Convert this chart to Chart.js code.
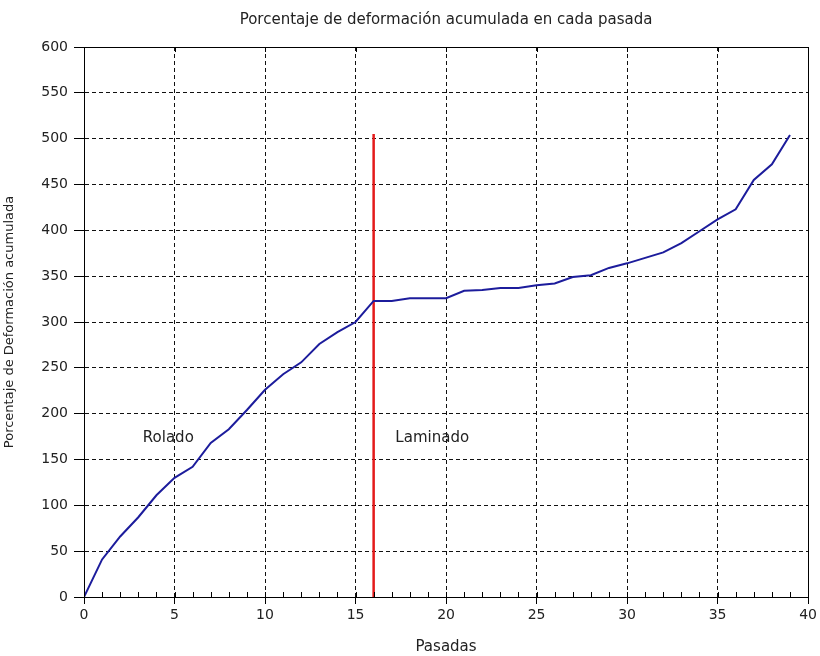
<!DOCTYPE html>
<html>
<head>
<meta charset="utf-8">
<script src="https://cdn.jsdelivr.net/npm/chart.js@4/dist/chart.umd.min.js"></script>
<style>
  html, body { margin: 0; padding: 0; background: #fff; }
  #wrap { width: 820px; height: 656px; }
</style>
</head>
<body>
<div id="wrap"><canvas id="deformChart" width="820" height="656"></canvas></div>
<script>
// numero de pasada
const pasadas = [0, 1, 2, 3, 4, 5, 6, 7, 8, 9, 10, 11, 12, 13, 14, 15, 16, 17, 18, 19,
  20, 21, 22, 23, 24, 25, 26, 27, 28, 29, 30, 31, 32, 33, 34, 35, 36, 37, 38, 39];
// deformacion acumulada (%)
const deformacion = [0, 41, 66, 87, 111, 130, 142, 168, 183, 204, 226, 243, 256, 276, 289, 300, 323, 323, 326, 326,
  326, 334, 335, 337, 337, 340, 342, 349, 351, 359, 364, 370, 376, 386, 399, 412, 423, 455, 472, 504];

// linea roja que separa rolado / laminado
const limitePasada = [16, 16];
const limiteValor = [0, 505];

const etiquetas = ['Rolado', 'Laminado'];
const etiquetasX = [3.25, 17.2];
const etiquetasY = [173, 173];

const xTicks = [0, 5, 10, 15, 20, 25, 30, 35, 40];
const yTicks = [0, 50, 100, 150, 200, 250, 300, 350, 400, 450, 500, 550, 600];

const titulo = 'Porcentaje de deformación acumulada en cada pasada';
const FONT = 'DejaVu Sans';

const frameAndText = {
  id: 'frameAndText',
  afterDraw(chart) {
    const ctx = chart.ctx;
    const area = chart.chartArea;
    const xs = chart.scales.x;
    const ys = chart.scales.y;
    ctx.save();
    // marco
    ctx.strokeStyle = '#000';
    ctx.lineWidth = 1;
    ctx.setLineDash([]);
    ctx.strokeRect(Math.round(area.left) + 0.5, Math.round(area.top) + 0.5,
      Math.round(area.right - area.left), Math.round(area.bottom - area.top));
    // marcas menores en eje x
    ctx.beginPath();
    for (let v = 0; v <= 40; v++) {
      const px = Math.round(xs.getPixelForValue(v)) + 0.5;
      ctx.moveTo(px, area.bottom);
      ctx.lineTo(px, area.bottom - 5);
      if (v % 5 === 0) {
        ctx.moveTo(px, area.top);
        ctx.lineTo(px, area.top + 5);
      }
    }
    ctx.stroke();
    // titulo centrado sobre el area del grafico
    ctx.fillStyle = '#222';
    ctx.textAlign = 'center';
    ctx.textBaseline = 'middle';
    ctx.font = '15px "' + FONT + '"';
    ctx.fillText(titulo, (area.left + area.right) / 2, 20);
    // textos
    ctx.textAlign = 'left';
    etiquetas.forEach((t, i) => {
      ctx.fillText(t, xs.getPixelForValue(etiquetasX[i]), ys.getPixelForValue(etiquetasY[i]));
    });
    ctx.restore();
  }
};

const ctx = document.getElementById('deformChart').getContext('2d');
new Chart(ctx, {
  type: 'scatter',
  data: {
    datasets: [
      {
        label: 'Deformación',
        data: pasadas.map((p, i) => ({ x: p, y: deformacion[i] })),
        showLine: true,
        borderColor: '#1c1c9c',
        borderWidth: 2,
        pointRadius: 0,
        tension: 0
      },
      {
        label: 'Límite',
        data: limitePasada.map((p, i) => ({ x: p, y: limiteValor[i] })),
        showLine: true,
        borderColor: '#e41a1a',
        borderWidth: 2.5,
        pointRadius: 0
      }
    ]
  },
  plugins: [frameAndText],
  options: {
    responsive: false,
    animation: false,
    events: [],
    layout: { padding: { top: 47, right: 9, bottom: 0, left: 0 } },
    plugins: {
      legend: { display: false },
      tooltip: { enabled: false },
      title: { display: false }
    },
    scales: {
      x: {
        type: 'linear',
        min: 0,
        max: 40,
        afterBuildTicks: (s) => { s.ticks = xTicks.map(v => ({ value: v })); },
        afterFit: (s) => { s.height = 59; },
        ticks: {
          color: '#222',
          font: { family: FONT, size: 14 },
          padding: 3
        },
        grid: {
          color: '#111',
          tickLength: 7,
          tickColor: '#000',
          tickBorderDash: []
        },
        border: { display: true, color: '#000', width: 1, dash: [4, 3] },
        title: {
          display: true,
          text: 'Pasadas',
          color: '#222',
          font: { family: FONT, size: 15 },
          padding: { top: 4, bottom: 0 }
        }
      },
      y: {
        type: 'linear',
        min: 0,
        max: 600,
        afterBuildTicks: (s) => { s.ticks = yTicks.map(v => ({ value: v })); },
        afterFit: (s) => { s.width = 84; },
        ticks: {
          color: '#222',
          font: { family: FONT, size: 14 },
          padding: 6
        },
        grid: {
          color: '#111',
          tickLength: 10,
          tickColor: '#000',
          tickBorderDash: []
        },
        border: { display: true, color: '#000', width: 1, dash: [4, 3] },
        title: {
          display: true,
          text: 'Porcentaje de Deformación acumulada',
          color: '#222',
          font: { family: FONT, size: 13 },
          padding: { top: 2, bottom: 0 }
        }
      }
    }
  }
});
</script>
</body>
</html>
